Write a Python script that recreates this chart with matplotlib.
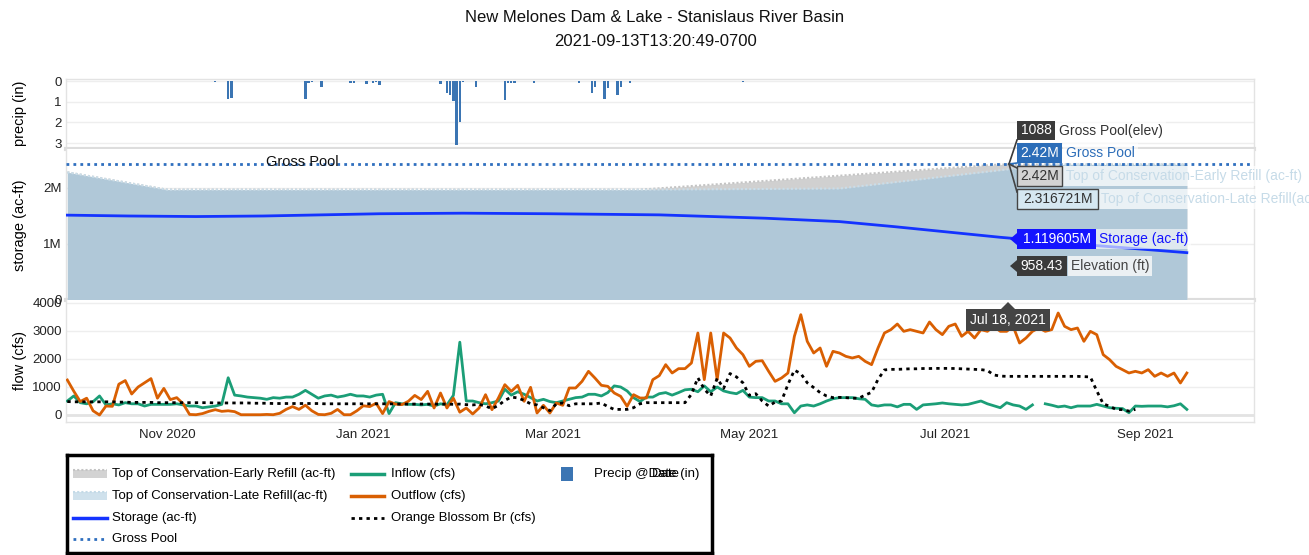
import numpy as np
import pandas as pd
import matplotlib
matplotlib.use("Agg")
import matplotlib.pyplot as plt
from matplotlib.patches import Rectangle, Polygon
from matplotlib.lines import Line2D

plt.rcParams['font.family'] = ['Liberation Sans', 'DejaVu Sans']

W, H = 1309, 555

# ---- data ----
title_1 = "New Melones Dam & Lake - Stanislaus River Basin"
title_2 = "2021-09-13T13:20:49-0700"

# daily flows sampled every 2 days from 2020-10-01
flow_start = "2020-10-01"
outflow = [
    1250, 850, 480, 600, 150, 0, 320, 310, 1100, 1230,
    750, 1000, 1150, 1300, 600, 950, 550, 620, 400, 20,
    10, 50, 130, 190, 130, 150, 120, 10, 10, 10,
    10, 20, 10, 60, 200, 300, 200, 350, 150, 20,
    10, 60, 200, 10, 10, 150, 330, 300, 420, 50,
    480, 390, 370, 490, 700, 550, 845, 250, 786, 250,
    600, 100, 250, 36, 250, 726, 190, 607, 1083, 845,
    1060, 488, 988, 71, 345, 71, 429, 345, 964, 964,
    1202, 1560, 1321, 1060, 1024, 786, 667, 310, 726, 607,
    607, 1262, 1405, 1798, 1500, 1655, 1655, 1857, 2929, 1262,
    2929, 1262, 2929, 2750, 2393, 2155, 1738, 1917, 1940, 1560,
    1202, 1321, 1500, 2810, 3583, 2631, 2214, 2393, 1738, 2274,
    2214, 2095,
    2036, 2095, 1917, 1798, 2393, 2929, 3048, 3250, 2988, 3048,
    2988, 2929, 3321, 3048, 2869, 3167, 3250, 2810, 2988, 2750,
    3048, 2988, 3167, 2988, 2988, 3167, 2571, 2750, 2988, 3107,
    2988, 3048, 3643, 3167, 3048, 3107, 2631, 2988, 2869, 2155,
    1976, 1738, 1619, 1500, 1560, 1500, 1619, 1381, 1500, 1381,
    1500, 1143, 1500,
]
inflow = [
    500, 680, 440, 400, 475, 680, 360, 400, 360, 440,
    400, 400, 320, 380, 380, 380, 380, 400, 360, 320,
    320, 260, 290, 320, 380, 1330, 710, 680, 640, 620,
    600, 560, 620, 600, 640, 640, 740, 880, 740, 600,
    680, 710, 640, 680, 740, 680, 680, 640, 710, 740,
    50, 440, 400, 380, 380, 360, 380, 320, 400, 360,
    700, 2600, 500, 500, 440, 400, 440, 500, 920, 710,
    830, 740, 620, 500, 560, 480, 440, 500, 560, 620,
    640, 740, 740, 680, 800, 1040, 1000, 860, 620, 480,
    640, 640, 760, 800, 710, 800, 900, 920, 830, 1040,
    830, 1000, 860, 800, 760, 880, 640, 620, 620, 500,
    500, 400, 400, 80, 320, 360, 320, 400, 500, 580,
    620, 620,
    620, 580, 560, 360, 320, 360, 360, 290, 380, 380,
    200, 360, 380, 400, 430, 400, 380, 360, 380, 440,
    500, 400, 330, 260, 440, 360, 320, 200, 360, np.nan,
    400, 350, 290, 320, 260, 320, 320, 320, 380, 320,
    260, 240, 230, 80, 320, 310, 320, 320, 320, 290,
    330, 400, 200,
]
orange_blossom = [
    480, 470, 470, 470, 470, 470, 470, 470, 460, 460,
    450, 450, 450, 450, 440, 440, 440, 440, 440, 440,
    440, 440, 440, 430, 430, 430, 430, 430, 430, 420,
    420, 420, 410, 410, 410, 410, 410, 410, 410, 410,
    400, 400, 400, 400, 400, 400, 400, 400, 400, 400,
    400, 390, 390, 390, 390, 390, 390, 390, 390, 390,
    380, 390, 370, 360, 380, 320, 225, 345, 520, 640,
    610, 520, 400, 360, 260, 155, 400, 430, 330, 400,
    400, 400, 400, 430, 300, 200, 200, 200, 260, 400,
    440, 440, 440, 440, 440, 440, 440, 740, 1330, 920,
    680, 1310, 950, 1480, 1360, 1150, 700, 760, 500, 320,
    460, 500, 1090, 1600, 1480, 1150, 980, 800, 680, 620,
    630, 620,
    600, 600, 710, 810, 1270, 1610, 1630, 1630, 1640, 1650,
    1650, 1660, 1660, 1665, 1665, 1665, 1660, 1650, 1640, 1630,
    1620, 1590, 1430, 1390, 1380, 1380, 1380, 1380, 1380, 1380,
    1380, 1380, 1380, 1380, 1380, 1380, 1370, 1360, 860, 400,
    310, 200, 190, 140, 200, np.nan, np.nan, np.nan, np.nan, np.nan,
    np.nan, np.nan, np.nan,
]

# storage (ac-ft)
storage_dates = ["2020-10-01", "2020-10-20", "2020-11-10", "2020-12-01", "2021-01-06",
                 "2021-02-01", "2021-02-28", "2021-04-03", "2021-05-06", "2021-05-29",
                 "2021-06-15", "2021-07-18", "2021-08-15", "2021-09-14"]
storage = [1.515e6, 1.50e6, 1.49e6, 1.50e6, 1.54e6, 1.55e6, 1.54e6, 1.52e6, 1.46e6,
           1.40e6, 1.31e6, 1.119605e6, 0.98e6, 0.845e6]

early_dates = ["2020-10-01", "2020-11-01", "2021-03-28", "2021-07-18", "2021-09-14"]
early_refill = [2.28e6, 1.97e6, 1.97e6, 2.42e6, 2.42e6]
late_dates = ["2020-10-01", "2020-11-01", "2021-03-28", "2021-05-29", "2021-07-18",
              "2021-08-03", "2021-09-14"]
late_refill = [2.28e6, 1.97e6, 1.97e6, 1.99e6, 2.316721e6, 2.42e6, 2.42e6]
gross_pool = 2.42e6

# precip (in)
precip_dates = ["2020-11-10", "2020-11-16", "2020-11-20", "2020-11-21", "2020-12-14",
                "2020-12-15", "2020-12-16", "2020-12-19", "2020-12-28", "2020-12-29",
                "2021-01-02", "2021-01-04", "2021-01-05", "2021-01-06", "2021-01-25",
                "2021-01-27", "2021-01-28", "2021-01-29", "2021-01-30", "2021-01-31",
                "2021-02-01", "2021-02-05", "2021-02-14", "2021-02-15", "2021-02-16",
                "2021-02-17", "2021-02-23", "2021-03-09", "2021-03-13", "2021-03-14",
                "2021-03-17", "2021-03-18", "2021-03-21", "2021-03-22", "2021-03-25",
                "2021-04-29", "2021-07-25", "2021-09-12"]
precip = [0.02, 0.03, 0.85, 0.8, 0.85,
          0.1, 0.05, 0.3, 0.12, 0.1,
          0.15, 0.1, 0.05, 0.2, 0.15,
          0.6, 0.7, 0.95, 3.1, 2.0,
          0.05, 0.3, 0.9, 0.1, 0.1,
          0.08, 0.12, 0.08, 0.6, 0.3,
          0.85, 0.35, 0.7, 0.3, 0.1,
          0.06, 0.01, 0.01]

flow_dates = pd.date_range(flow_start, periods=len(outflow), freq="2D")
x_range = (pd.Timestamp("2020-09-30 14:00"), pd.Timestamp("2021-10-04 21:00"))

# colours
c_inflow = "#1b9e77"
c_outflow = "#d95f02"
c_storage = "#1433ff"
c_gross = "#2f6fbf"
c_early = "#d0d0d0"
c_late = "#b0c8d8"
c_precip = "#3b75b3"
grid_c = "#eeeeee"
tick_c = "#222222"


def fx(x):
    return x / W


def fy(y):
    return 1 - y / H


fig = plt.figure(figsize=(W / 100, H / 100), dpi=100)

left, right = 66, 1254
ax_p = fig.add_axes([fx(left), fy(149), (right - left) / W, 70 / H])
ax_s = fig.add_axes([fx(left), fy(300), (right - left) / W, 151 / H])
ax_f = fig.add_axes([fx(left), fy(422), (right - left) / W, 122 / H])

for ax in (ax_p, ax_s, ax_f):
    ax.set_xlim(*x_range)
    for sp in ax.spines.values():
        sp.set_color("#e3e3e3")
        sp.set_linewidth(1)
    ax.tick_params(length=0, labelsize=9.5, colors=tick_c, pad=3)
    ax.grid(axis="y", color=grid_c, linewidth=1)
    ax.set_axisbelow(True)

# precip panel
ax_p.bar(pd.to_datetime(precip_dates), precip, width=0.7, color=c_precip, zorder=3)
ax_p.set_ylim(3.29, -0.097)
ax_p.set_yticks([0, 1, 2, 3])
ax_p.set_xticks([])
ax_p.spines["bottom"].set_linewidth(3)
ax_p.spines["bottom"].set_color("#dddddd")

# storage panel
ed = pd.to_datetime(early_dates)
ld = pd.to_datetime(late_dates)
ax_s.fill_between(ed, early_refill, 0, color=c_early, linewidth=0, zorder=2)
ax_s.plot(ed, early_refill, color="#c4c4c4", linestyle=(0, (1, 1)), linewidth=1.5, zorder=2)
ax_s.fill_between(ld, late_refill, 0, color=c_late, linewidth=0, zorder=3)
ax_s.plot(ld, late_refill, color="#c9dde9", linestyle=(0, (1, 1)), linewidth=1.5, zorder=3)
ax_s.axhline(gross_pool, color=c_gross, linestyle=(0, (1, 1.5)), linewidth=2, zorder=4)
ax_s.plot(pd.to_datetime(storage_dates), storage, color=c_storage, linewidth=2, zorder=5)
ax_s.text(pd.Timestamp("2020-12-13"), gross_pool + 0.04e6, "Gross Pool", ha="center",
          va="center", fontsize=10.5, color="#111111", zorder=6)
ax_s.set_ylim(0, 2.696e6)
ax_s.set_yticks([0, 1e6, 2e6])
ax_s.set_yticklabels(["0", "1M", "2M"])
ax_s.set_xticks([])
ax_s.spines["bottom"].set_linewidth(3)
ax_s.spines["bottom"].set_color("#dddddd")
ax_s.spines["top"].set_visible(False)

# flow panel
ax_f.plot(flow_dates, inflow, color=c_inflow, linewidth=2, zorder=3)
ax_f.plot(flow_dates, outflow, color=c_outflow, linewidth=2, zorder=3)
ax_f.plot(flow_dates, orange_blossom, color="black", linestyle=(0, (1.2, 1.5)),
          linewidth=2, zorder=4)
ax_f.set_ylim(-250, 4107)
ax_f.set_yticks([0, 1000, 2000, 3000, 4000])
ax_f.set_yticklabels(["0", "1000", "2000", "3000", "4000"])
ax_f.axhline(0, color="#e3e3e3", linewidth=2, zorder=1)
ax_f.spines["top"].set_visible(False)
ticks = pd.to_datetime(["2020-11-01", "2021-01-01", "2021-03-01", "2021-05-01",
                        "2021-07-01", "2021-09-01"])
ax_f.set_xticks(ticks)
ax_f.set_xticklabels([t.strftime("%b %Y") for t in ticks])
ax_f.tick_params(axis="x", pad=5)

# titles and axis labels
fig.text(fx(655), fy(18), title_1, ha="center", va="center", fontsize=12, color="#111111")
fig.text(fx(655), fy(42), title_2, ha="center", va="center", fontsize=12, color="#111111")
fig.text(fx(20), fy(113), "precip (in)", rotation=90, ha="center", va="center", fontsize=10.5)
fig.text(fx(20), fy(225), "storage (ac-ft)", rotation=90, ha="center", va="center", fontsize=10.5)
fig.text(fx(20), fy(361), "flow (cfs)", rotation=90, ha="center", va="center", fontsize=10.5)

# hover labels
hover = [
    (1017, 1055, 121, 140, "#3a3a3a", None, "white", "1088",
     1059, "Gross Pool(elev)", "#333333", (1, 1, 1, 0.6)),
    (1017, 1062, 143, 163, "#2c6db8", None, "white", "2.42M",
     1066, "Gross Pool", "#2c6db8", (1, 1, 1, 0.6)),
    (1017, 1062, 166, 186, "#d3d3d3", "#444444", "#333333", "2.42M",
     1066, "Top of Conservation-Early Refill (ac-ft)", "#c6dbe8", (1, 1, 1, 0.75)),
    (1017, 1098, 189, 209, "#d5e7f1", "#444444", "#333333", "2.316721M",
     1101, "Top of Conservation-Late Refill(ac-ft)", "#c6dbe8", (1, 1, 1, 0.75)),
    (1017, 1096, 229, 249, "#1414ff", None, "white", "1.119605M",
     1099, "Storage (ac-ft)", "#1414ff", (1, 1, 1, 0.6)),
    (1017, 1067, 256, 276, "#3a3a3a", None, "white", "958.43",
     1071, "Elevation (ft)", "#444444", (0.95, 0.96, 0.97, 0.9)),
]
for x0, x1, y0, y1, fc, ec, tc, val, nx, name, nc, nbg in hover:
    ym = (y0 + y1) / 2
    fig.text(fx(nx), fy(ym), name, ha="left", va="center", fontsize=10, color=nc,
             bbox=dict(boxstyle="square,pad=0.2", fc=nbg, ec="none"), zorder=10)
    fig.patches.append(Rectangle((fx(x0), fy(y1)), (x1 - x0) / W, (y1 - y0) / H,
                                 transform=fig.transFigure, fc=fc,
                                 ec=ec if ec else "none", lw=1, zorder=11))
    fig.text(fx((x0 + x1) / 2), fy(ym), val, ha="center", va="center", fontsize=10,
             color=tc, zorder=12)

# pointers of the hover labels
for y0, y1, fc in [(229, 249, "#1414ff"), (256, 276, "#3a3a3a")]:
    ym = (y0 + y1) / 2
    fig.patches.append(Polygon([(fx(1010), fy(ym)), (fx(1017), fy(ym - 6)), (fx(1017), fy(ym + 6))],
                               closed=True, transform=fig.transFigure, fc=fc, ec="none", zorder=11))
for ya, fc in [(140, "#3a3a3a"), (163, "#2c6db8"), (168, "#444444"), (192, "#444444")]:
    fig.lines.append(Line2D([fx(1017), fx(1009)], [fy(ya), fy(164)], transform=fig.transFigure,
                            color=fc, lw=1.2, zorder=11))

# date tooltip
fig.patches.append(Rectangle((fx(966), fy(331)), 84 / W, 22 / H, transform=fig.transFigure,
                             fc="#444444", ec="none", zorder=11))
fig.patches.append(Polygon([(fx(1001), fy(309)), (fx(1008), fy(302)), (fx(1015), fy(309))],
                           closed=True, transform=fig.transFigure, fc="#444444", ec="none", zorder=11))
fig.text(fx(1008), fy(320), "Jul 18, 2021", ha="center", va="center", fontsize=10,
         color="white", zorder=12)

# legend box
ax_l = fig.add_axes([fx(67), fy(553), (712 - 67) / W, (553 - 455) / H])
ax_l.set_xlim(67, 712)
ax_l.set_ylim(553, 455)
ax_l.set_xticks([])
ax_l.set_yticks([])
for sp in ax_l.spines.values():
    sp.set_color("black")
    sp.set_linewidth(2.5)

rows = [474, 496, 518, 539]
lfs = 9.5
ax_l.add_patch(Rectangle((73, rows[0] - 4), 34, 8, fc="#d3d3d3", ec="none"))
ax_l.plot([73, 107], [rows[0] - 4, rows[0] - 4], color="#c4c4c4", linestyle=(0, (1, 1)), lw=1.5)
ax_l.add_patch(Rectangle((73, rows[1] - 4), 34, 8, fc="#cfe1ec", ec="none"))
ax_l.plot([73, 107], [rows[1] - 4, rows[1] - 4], color="#c4dae7", linestyle=(0, (1, 1)), lw=1.5)
ax_l.plot([73, 107], [rows[2], rows[2]], color=c_storage, lw=2.5)
ax_l.plot([73, 107], [rows[3], rows[3]], color=c_gross, lw=2, linestyle=(0, (1, 1.5)))
ax_l.plot([351, 384], [rows[0], rows[0]], color=c_inflow, lw=2.5)
ax_l.plot([351, 384], [rows[1], rows[1]], color=c_outflow, lw=2.5)
ax_l.plot([351, 384], [rows[2], rows[2]], color="black", lw=2, linestyle=(0, (1.2, 1.5)))
ax_l.add_patch(Rectangle((561, rows[0] - 7), 12, 14, fc=c_precip, ec="none"))

col1 = ["Top of Conservation-Early Refill (ac-ft)", "Top of Conservation-Late Refill(ac-ft)",
        "Storage (ac-ft)", "Gross Pool"]
col2 = ["Inflow (cfs)", "Outflow (cfs)", "Orange Blossom Br (cfs)"]
for r, t in zip(rows, col1):
    ax_l.text(112, r, t, ha="left", va="center", fontsize=lfs)
for r, t in zip(rows, col2):
    ax_l.text(391, r, t, ha="left", va="center", fontsize=lfs)
ax_l.text(594, rows[0], "Precip @Date (in)", ha="left", va="center", fontsize=lfs)
ax_l.text(652, rows[0], "Date", ha="left", va="center", fontsize=lfs)

fig.savefig("out.png", dpi=100)
